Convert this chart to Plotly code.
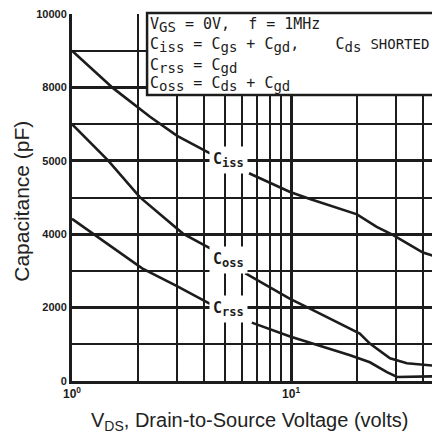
import plotly.graph_objects as go
import math

# ---- data ----
ciss_x = [1, 1.54, 2.27, 3.02, 4.27, None, 6.43, 9.9, 12.2, 20, 24.6, 29, 35, 40, 48]
ciss_y = [9000, 7980, 7200, 6680, 6200, None, 5660, 5150, 4960, 4540, 4200, 3990, 3700, 3500, 3350]
coss_x = [1, 1.46, 2.04, 3.21, 4.36, None, 6.17, 9.9, 12.2, 20.6, 22.9, 28.3, 33.8, 48]
coss_y = [7000, 6010, 5010, 4016, 3585, None, 2940, 2240, 1970, 1290, 1020, 620, 485, 400]
crss_x = [1, 1.25, 2.09, 3.0, 4.27, None, 6.62, 9.9, 18.6, 22.9, 27.4, 30.5, 48]
crss_y = [4420, 4016, 3070, 2590, 2100, None, 1590, 1213, 700, 510, 243, 110, 130]

curve_labels = ["iss", "oss", "rss"]
label_x = [5.16, 5.16, 5.16]
label_y = [6010, 3290, 1970]

y_major = [0, 2000, 4000, 6000, 8000, 10000]
y_major_text = ["0", "2000", "4000", "5000", "8000", "10000"]
y_minor = [1000, 3000, 5000, 7000, 9000]
x_major = [1, 10]
x_major_text = ["10<sup>0</sup>", "10<sup>1</sup>"]
x_minor = [2, 3, 4, 5, 6, 7, 8, 9, 20, 30, 40]

NB = "\u00a0"


def sub(s, size=14):
    return "<sub><span style='font-size:%dpx'>%s</span></sub>" % (size, s)


legend_lines = [
    "V" + sub("GS") + NB + "=" + NB + "0V," + NB * 2 + "f" + NB + "=" + NB + "1MHz",
    "C" + sub("iss") + NB + "=" + NB + "C" + sub("gs") + NB + "+" + NB + "C" + sub("gd") + ","
    + NB * 4 + "C" + sub("ds") + NB + "<span style='font-size:14px'>SHORTED</span>",
    "C" + sub("rss") + NB + "=" + NB + "C" + sub("gd"),
    "C" + sub("oss") + NB + "=" + NB + "C" + sub("ds") + NB + "+" + NB + "C" + sub("gd"),
]

INK = "#1c1c1c"
MONO = "DejaVu Sans Mono"

fig = go.Figure()
for xs, ys in [(ciss_x, ciss_y), (coss_x, coss_y), (crss_x, crss_y)]:
    fig.add_trace(go.Scatter(x=xs, y=ys, mode="lines", connectgaps=False,
                             line=dict(color=INK, width=2.6), showlegend=False,
                             hoverinfo="skip"))

for t, lx, ly in zip(curve_labels, label_x, label_y):
    fig.add_annotation(x=math.log10(lx), y=ly, xref="x", yref="y", text="C" + sub(t, 12),
                       showarrow=False, bgcolor="white", borderpad=3,
                       font=dict(family=MONO, size=15, color=INK, weight="bold"))

# legend box
fig.add_shape(type="rect", xref="paper", yref="paper",
              x0=0.204, x1=1.08, y0=0.779, y1=1.003,
              line=dict(color=INK, width=2.5), fillcolor="white", layer="above")
leg_y = [0.970, 0.915, 0.858, 0.808]
for t, yy in zip(legend_lines, leg_y):
    fig.add_annotation(x=0.207, y=yy, xref="paper", yref="paper", text=t,
                       showarrow=False, xanchor="left", yanchor="middle",
                       font=dict(family=MONO, size=15, color=INK))

# axis titles
fig.add_annotation(x=-0.136, y=0.491, xref="paper", yref="paper",
                   text="Capacitance (pF)", textangle=-90, showarrow=False,
                   xanchor="center", yanchor="middle",
                   font=dict(family="Liberation Sans", size=21, color="#222"))
fig.add_annotation(x=0.481, y=-0.109, xref="paper", yref="paper",
                   text="V<sub>DS</sub>, Drain-to-Source Voltage (volts)", showarrow=False,
                   xanchor="center", yanchor="middle",
                   font=dict(family="Liberation Sans", size=20, color="#222"))

fig.update_xaxes(type="log", range=[0, 1.680],
                 tickmode="array", tickvals=x_major, ticktext=x_major_text,
                 tickfont=dict(family="Liberation Sans", size=12, color=INK, weight="bold"),
                 ticks="", showgrid=True, gridcolor=INK, gridwidth=3,
                 showline=True, linecolor=INK, linewidth=3,
                 ticklabeloverflow="allow",
                 minor=dict(tickmode="array", tickvals=x_minor, showgrid=True,
                            gridcolor=INK, gridwidth=2),
                 zeroline=False, fixedrange=True)
fig.update_yaxes(range=[0, 10000],
                 tickmode="array", tickvals=y_major, ticktext=y_major_text,
                 tickfont=dict(family="Liberation Sans", size=11, color=INK, weight="bold"),
                 ticks="", showgrid=True, gridcolor=INK, gridwidth=3,
                 showline=True, linecolor=INK, linewidth=3,
                 ticklabeloverflow="allow",
                 minor=dict(tickmode="array", tickvals=y_minor, showgrid=True,
                            gridcolor=INK, gridwidth=2),
                 zeroline=False, fixedrange=True)

# page body adds an 8px offset; size/margins compensate so the plot lands where the reference has it
fig.update_layout(width=432, height=427,
                  margin=dict(l=64, r=0, t=2, b=54),
                  paper_bgcolor="white", plot_bgcolor="white",
                  showlegend=False)

fig.write_html("out.html")
